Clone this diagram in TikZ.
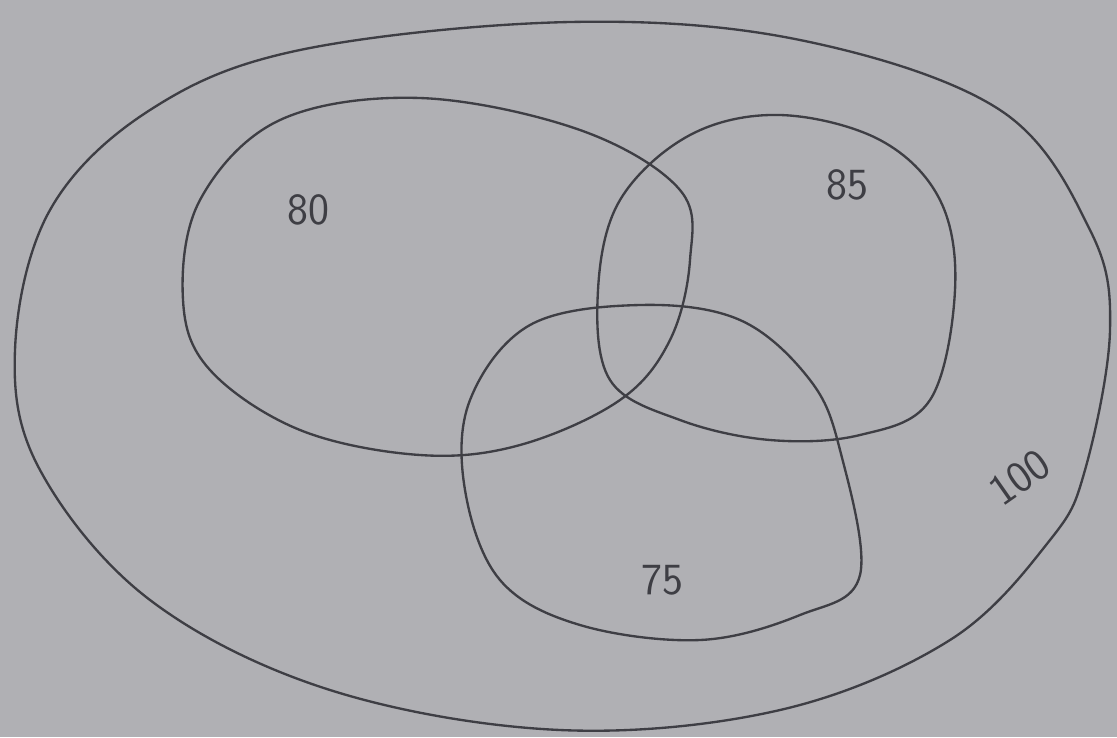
\documentclass[tikz,border=0pt]{standalone}
\usepackage{xcolor}
\usepackage{tikz}
\usetikzlibrary{positioning}
\definecolor{paper}{RGB}{176,176,180}
\definecolor{pencil}{RGB}{62,62,68}
\tikzset{
  ring/.style={draw=pencil, line width=2pt},
  count/.style={text=pencil, font=\sffamily\fontsize{38}{38}\selectfont, inner sep=1pt}
}

\begin{document}
\begin{tikzpicture}[x=0.3mm, y=-0.3mm]
    \fill[paper] (0,0) rectangle (1117,737);
    \useasboundingbox (0,0) rectangle (1117,737);

    % universe
    \draw[ring] plot[smooth cycle, tension=0.6] coordinates {(570,22) (800,40) (1000,110) (1090,230) (1110,330) (1085,470) (1050,540) (950,640) (780,710) (560,730) (330,690) (150,600) (40,470) (15,350) (50,210) (150,110) (300,50)};
    % three sets
    \draw[ring] plot[smooth cycle, tension=0.6] coordinates {(420,98) (580,130) (680,190) (690,260) (670,340) (620,400) (520,445) (420,455) (300,430) (210,370) (183,300) (200,200) (280,120)};
    \draw[ring] plot[smooth cycle, tension=0.6] coordinates {(780,115) (880,140) (940,200) (955,290) (930,400) (860,435) (770,440) (680,420) (610,380) (598,290) (620,200) (690,135)};
    \draw[ring] plot[smooth cycle, tension=0.6] coordinates {(640,305) (740,320) (810,380) (840,450) (860,575) (800,615) (700,640) (580,625) (500,580) (465,490) (470,400) (530,325)};

    \node[count] (a) at (308,210) {80};
    \node[count] (b) at (847,185) {85};
    \node[count] (c) at (662,580) {75};
    \node[count, rotate=35] (u) at (1020,478) {100};
  \end{tikzpicture}
\end{document}
